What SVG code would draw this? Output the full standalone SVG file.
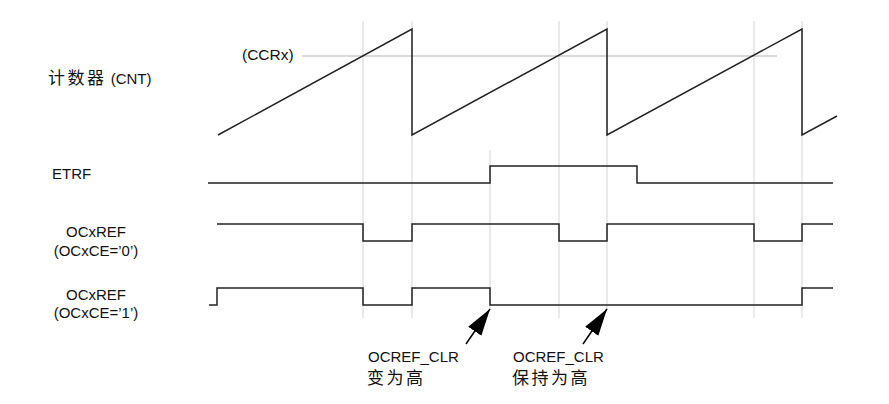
<svg xmlns="http://www.w3.org/2000/svg" width="889" height="404" viewBox="0 0 889 404">
<style>
.bg{fill:#ffffff}
.grid{stroke:#d4d4d4;stroke-width:1;fill:none}
.ccr{stroke:#b4b4b4;stroke-width:1.2;fill:none}
.sig{stroke:#222222;stroke-width:1.5;fill:none;stroke-linejoin:miter}
.t{font-family:"Liberation Sans","Noto Sans CJK SC",Arial,sans-serif;font-size:15px;fill:#111111}
.cjk{font-family:"Noto Sans CJK SC","Liberation Sans",sans-serif;font-size:17px;letter-spacing:2.5px;fill:#111111}
.arr{stroke:#000000;stroke-width:1.5;fill:none}
</style>
<defs>
<marker id="ah" markerUnits="userSpaceOnUse" markerWidth="28" markerHeight="18" refX="27" refY="8" orient="auto">
<path d="M0,0 L27,8 L0,16 z" fill="#000000"/>
</marker>
</defs>
<rect class="bg" x="0" y="0" width="889" height="404"/>
<g id="grid">
<line class="grid" x1="363" y1="21" x2="363" y2="318"/>
<line class="grid" x1="412" y1="21" x2="412" y2="318"/>
<line class="grid" x1="490" y1="150" x2="490" y2="310"/>
<line class="grid" x1="559" y1="21" x2="559" y2="318"/>
<line class="grid" x1="607" y1="21" x2="607" y2="310"/>
<line class="grid" x1="754" y1="21" x2="754" y2="318"/>
<line class="grid" x1="802" y1="21" x2="802" y2="318"/>
<line class="ccr" x1="302" y1="56" x2="777" y2="56"/>
</g>
<g id="cnt">
<text class="t" x="48" y="84"><tspan class="cjk">计数器</tspan><tspan> (CNT)</tspan></text>
<text class="t" x="242" y="60" style="font-size:15.5px">(CCRx)</text>
<path class="sig" d="M218,135 L412,29 L412,135 L607,29 L607,135 L802,29 L802,135 L837,116"/>
</g>
<g id="etrf">
<text class="t" x="52" y="179">ETRF</text>
<path class="sig" d="M208,183 H490 V166 H637 V183 H833"/>
</g>
<g id="ocxref0">
<text class="t" x="96" y="237" text-anchor="middle">OCxREF</text>
<text class="t" x="96" y="256" text-anchor="middle">(OCxCE=’0’)</text>
<path class="sig" d="M217,224 H363 V241 H412 V224 H559 V241 H607 V224 H754 V241 H802 V224 H833"/>
</g>
<g id="ocxref1">
<text class="t" x="96" y="300" text-anchor="middle">OCxREF</text>
<text class="t" x="96" y="318" text-anchor="middle">(OCxCE=’1’)</text>
<path class="sig" d="M209,305 H217 V288 H363 V305 H412 V288 H490 V305 H802 V288 H833"/>
</g>
<g id="connectors">
<line class="arr" x1="466" y1="344" x2="490" y2="309" marker-end="url(#ah)"/>
<line class="arr" x1="583" y1="344" x2="607" y2="309" marker-end="url(#ah)"/>
</g>
<g id="label1">
<text class="t" x="368" y="362">OCREF_CLR</text>
<text class="cjk" x="367" y="384">变为高</text>
</g>
<g id="label2">
<text class="t" x="513" y="362">OCREF_CLR</text>
<text class="cjk" x="512" y="384">保持为高</text>
</g>
</svg>
